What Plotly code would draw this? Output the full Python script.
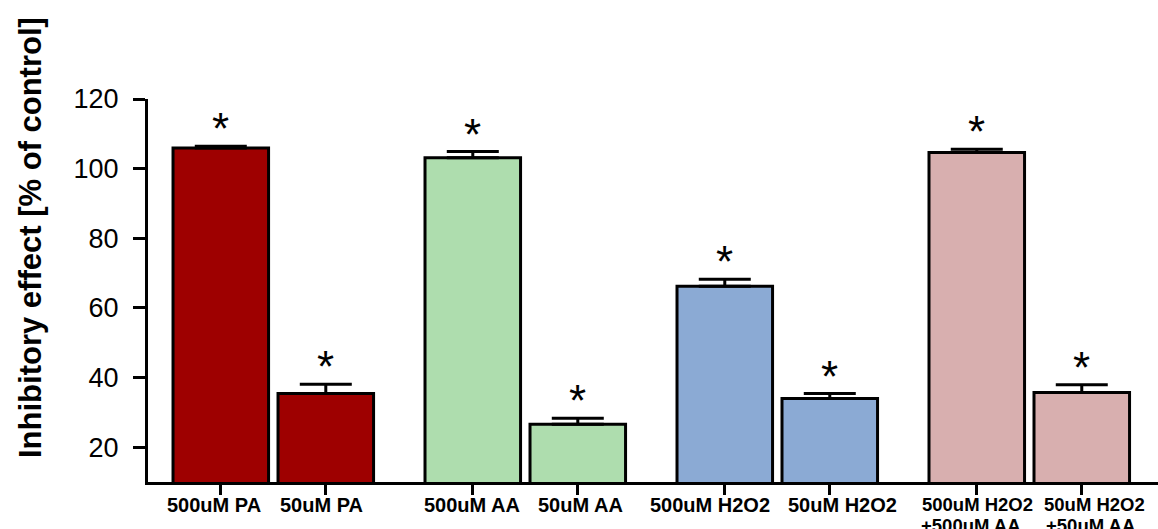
import plotly.graph_objects as go

# ---- data ----
categories = ["500uM PA", "50uM PA", "500uM AA", "50uM AA",
              "500uM H2O2", "50uM H2O2", "500uM H2O2", "50uM H2O2"]
second_lines = ["", "", "", "", "", "", "+500uM AA", "+50uM AA"]
values = [105.9, 35.4, 103.1, 26.6, 66.2, 34.0, 104.6, 35.7]
errors = [0.5, 2.7, 1.8, 1.7, 2.0, 1.4, 1.0, 2.2]
significance = ["*", "*", "*", "*", "*", "*", "*", "*"]
y_ticks = [20, 40, 60, 80, 100, 120]
y_title = "Inhibitory effect [% of control]"

# ---- layout / style ----
x_pos = [0, 1, 2.4, 3.4, 4.8, 5.8, 7.2, 8.2]
label_dx = [-7, -4, -1, 3, -15, 12.5, 0.7, 13]        # px offset of label centre
label_size = [20, 20, 20, 20, 20, 20, 18.5, 18.5]
second_dx = [0, 0, 0, 0, 0, 0, -6, 9]
colors = ["#9E0000", "#9E0000", "#AEDDAE", "#AEDDAE",
          "#8BAAD4", "#8BAAD4", "#D8AFAF", "#D8AFAF"]
FONT = "Liberation Sans, Arial, sans-serif"
W, H = 1158, 529
ML, MR, MT, MB = 148, 0, 99, 47

fig = go.Figure()
fig.add_trace(go.Bar(
    x=x_pos, y=values, width=0.91,
    marker=dict(color=colors, line=dict(color="black", width=3)),
    error_y=dict(type="data", array=errors, arrayminus=[0] * len(errors),
                 symmetric=False, color="black", thickness=3, width=26),
    showlegend=False,
))

annotations = []
for xp, v, e, s in zip(x_pos, values, errors, significance):
    annotations.append(dict(
        x=xp, y=v + e, xref="x", yref="y", text=s, showarrow=False,
        yanchor="bottom", yshift=-9,
        font=dict(family=FONT, size=44, color="black"),
    ))
for xp, c, dx, fs in zip(x_pos, categories, label_dx, label_size):
    annotations.append(dict(
        x=xp, y=0, xref="x", yref="paper", text="<b>%s</b>" % c,
        showarrow=False, xanchor="center", yanchor="top",
        xshift=dx, yshift=-10,
        font=dict(family=FONT, size=fs, color="black"),
    ))
for xp, t, dx, fs in zip(x_pos, second_lines, second_dx, label_size):
    if t:
        annotations.append(dict(
            x=xp, y=0, xref="x", yref="paper", text="<b>%s</b>" % t,
            showarrow=False, xanchor="center", yanchor="top",
            xshift=dx, yshift=-31,
            font=dict(family=FONT, size=fs, color="black"),
        ))
annotations.append(dict(
    x=(30 - ML) / (W - ML - MR), y=(H - MB - 238) / (H - MT - MB),
    xref="paper", yref="paper", text="<b>%s</b>" % y_title,
    textangle=-90, showarrow=False, xanchor="center", yanchor="middle",
    font=dict(family=FONT, size=31, color="black"),
))

fig.update_layout(
    width=W, height=H,
    margin=dict(l=ML, r=MR, t=MT, b=MB, autoexpand=False),
    paper_bgcolor="white", plot_bgcolor="white",
    font=dict(family=FONT, color="black"),
    annotations=annotations,
    xaxis=dict(
        range=[-0.6933, 8.926], tickmode="array", tickvals=x_pos,
        showticklabels=False,
        showline=True, linecolor="black", linewidth=3,
        ticks="outside", ticklen=10, tickwidth=3, tickcolor="black",
        showgrid=False, zeroline=False, fixedrange=True, automargin=False,
    ),
    yaxis=dict(
        range=[10, 120], tickmode="array", tickvals=y_ticks,
        tickfont=dict(family=FONT, size=27, color="black"),
        showline=True, linecolor="black", linewidth=3,
        ticks="outside", ticklen=12, tickwidth=3, tickcolor="black",
        ticklabelstandoff=9,
        showgrid=False, zeroline=False, fixedrange=True, automargin=False,
    ),
)

fig.write_html("out.html")
